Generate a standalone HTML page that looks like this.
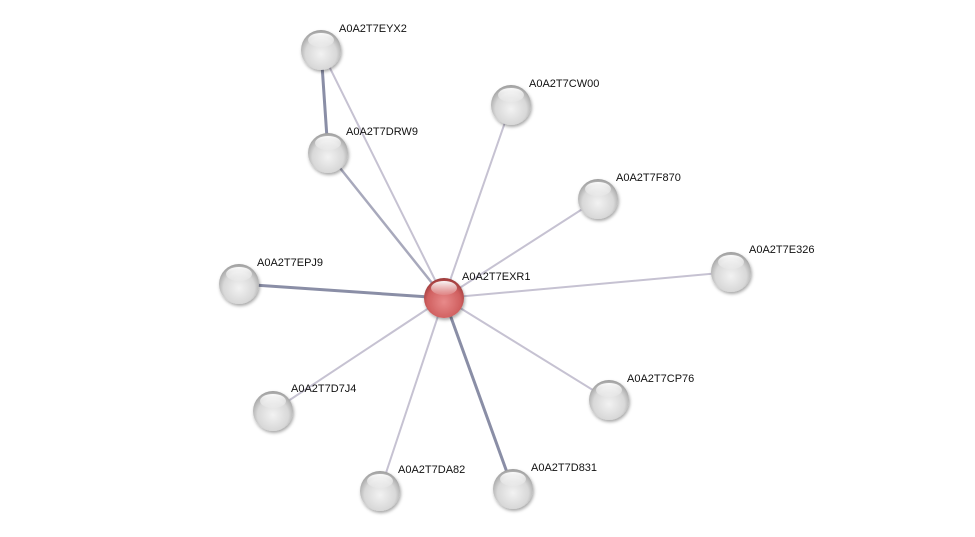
<!DOCTYPE html>
<html><head><style>body{margin:0;background:#fff}svg{display:block}</style></head><body>
<svg width="975" height="537" viewBox="0 0 975 537" xmlns="http://www.w3.org/2000/svg">
<defs>
<radialGradient id="g" cx="50%" cy="60%" r="60%"><stop offset="0" stop-color="#f2f2f2"/><stop offset="0.65" stop-color="#d8d8d8"/><stop offset="1" stop-color="#9c9c9c"/></radialGradient>
<radialGradient id="r" cx="50%" cy="60%" r="60%"><stop offset="0" stop-color="#e88a8a"/><stop offset="0.7" stop-color="#d06060"/><stop offset="1" stop-color="#9a3838"/></radialGradient>
<linearGradient id="h" x1="0" y1="0" x2="0" y2="1"><stop offset="0" stop-color="#fff" stop-opacity="0.95"/><stop offset="1" stop-color="#fff" stop-opacity="0.1"/></linearGradient>
<filter id="s" x="-30%" y="-30%" width="160%" height="160%"><feDropShadow dx="1" dy="2" stdDeviation="1.5" flood-opacity="0.35"/></filter>
</defs>
<g stroke-linecap="round">
<line x1="321" y1="50" x2="328" y2="153" stroke="#8a8ea6" stroke-width="3"/>
<line x1="321" y1="50" x2="444" y2="298" stroke="#c6c2d2" stroke-width="2"/>
<line x1="328" y1="153" x2="444" y2="298" stroke="#a8a9bc" stroke-width="2.5"/>
<line x1="511" y1="105" x2="444" y2="298" stroke="#c6c2d2" stroke-width="2"/>
<line x1="598" y1="199" x2="444" y2="298" stroke="#c6c2d2" stroke-width="2"/>
<line x1="731" y1="272" x2="444" y2="298" stroke="#c6c2d2" stroke-width="2"/>
<line x1="239" y1="284" x2="444" y2="298" stroke="#8a8ea6" stroke-width="3"/>
<line x1="273" y1="411" x2="444" y2="298" stroke="#c6c2d2" stroke-width="2"/>
<line x1="380" y1="491" x2="444" y2="298" stroke="#c6c2d2" stroke-width="2"/>
<line x1="513" y1="489" x2="444" y2="298" stroke="#8a8ea6" stroke-width="3"/>
<line x1="609" y1="400" x2="444" y2="298" stroke="#c6c2d2" stroke-width="2"/>
</g>
<g filter="url(#s)">
<circle cx="321" cy="50" r="20" fill="url(#g)"/>
<circle cx="328" cy="153" r="20" fill="url(#g)"/>
<circle cx="511" cy="105" r="20" fill="url(#g)"/>
<circle cx="598" cy="199" r="20" fill="url(#g)"/>
<circle cx="731" cy="272" r="20" fill="url(#g)"/>
<circle cx="239" cy="284" r="20" fill="url(#g)"/>
<circle cx="273" cy="411" r="20" fill="url(#g)"/>
<circle cx="380" cy="491" r="20" fill="url(#g)"/>
<circle cx="513" cy="489" r="20" fill="url(#g)"/>
<circle cx="609" cy="400" r="20" fill="url(#g)"/>
<circle cx="444" cy="298" r="20" fill="url(#r)"/>
</g>
<g fill="url(#h)">
<ellipse cx="321" cy="40" rx="13" ry="7"/><ellipse cx="328" cy="143" rx="13" ry="7"/>
<ellipse cx="511" cy="95" rx="13" ry="7"/><ellipse cx="598" cy="189" rx="13" ry="7"/>
<ellipse cx="731" cy="262" rx="13" ry="7"/><ellipse cx="239" cy="274" rx="13" ry="7"/>
<ellipse cx="273" cy="401" rx="13" ry="7"/><ellipse cx="380" cy="481" rx="13" ry="7"/>
<ellipse cx="513" cy="479" rx="13" ry="7"/><ellipse cx="609" cy="390" rx="13" ry="7"/>
<ellipse cx="444" cy="288" rx="13" ry="7"/>
</g>
<g font-family="Liberation Sans, sans-serif" font-size="11" fill="#111">
<text x="339" y="32">A0A2T7EYX2</text>
<text x="346" y="135">A0A2T7DRW9</text>
<text x="529" y="87">A0A2T7CW00</text>
<text x="616" y="181">A0A2T7F870</text>
<text x="749" y="253">A0A2T7E326</text>
<text x="257" y="266">A0A2T7EPJ9</text>
<text x="462" y="280">A0A2T7EXR1</text>
<text x="291" y="392">A0A2T7D7J4</text>
<text x="398" y="473">A0A2T7DA82</text>
<text x="531" y="471">A0A2T7D831</text>
<text x="627" y="382">A0A2T7CP76</text>
</g>
</svg>
</body></html>
